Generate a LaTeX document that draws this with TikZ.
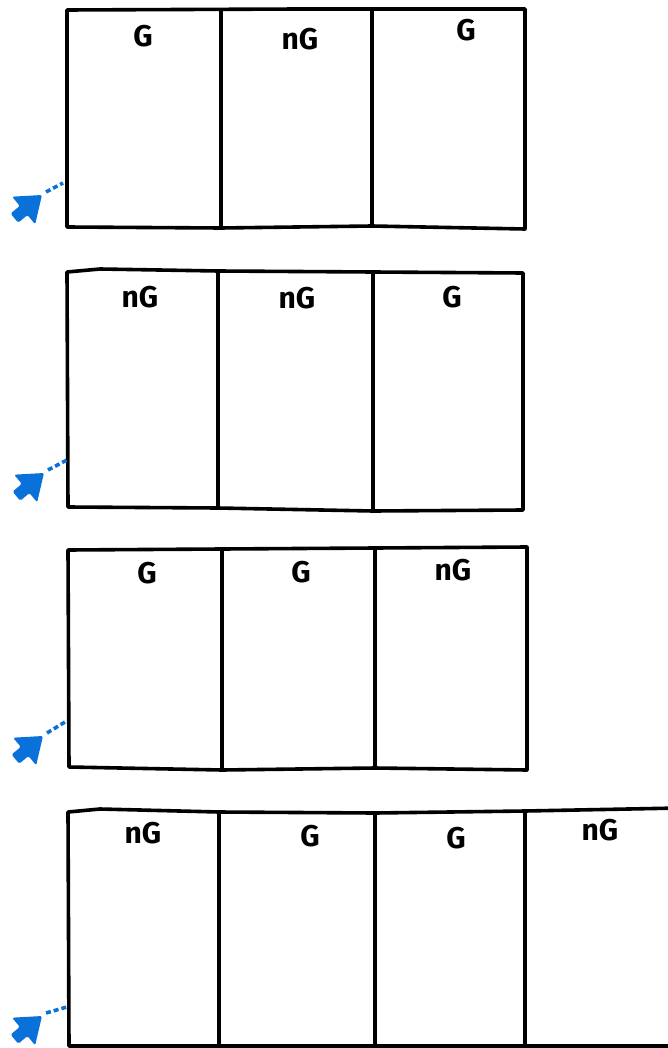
\documentclass[tikz,border=0pt]{standalone}
\usepackage{fontspec}
\setmainfont{Fira Sans}
\definecolor{arrowblue}{RGB}{10,112,218}
\tikzset{
  x=1pt, y=-1pt,
  boxline/.style={line width=3.6pt, line join=round, line cap=round, black},
  lbl/.style={font=\fontsize{30}{30}\selectfont\bfseries, inner sep=0pt},
  dots/.style={arrowblue, line width=3.6pt, dash pattern=on 5pt off 3pt},
  pics/bluearrow/.style={code={
    \fill[arrowblue, rounded corners=1.5pt, scale=1.2] (0,0) -- (-5.7,24.4) -- (-12.1,16.7) -- (-19.8,23.1)
      -- (-26.2,15.5) -- (-18.5,9.1) -- (-24.9,1.4) -- cycle;
  }}
}
\begin{document}
\begin{tikzpicture}
\useasboundingbox (0,0) rectangle (667,1048);
% Row 1
\draw[boxline] (67,10) -- (300,9) -- (525,9) -- (525,229) -- (372,226) -- (221,228) -- (67,227) -- cycle;
\draw[boxline] (221,10) -- (221,228);
\draw[boxline] (372,9) -- (372,226);
\node[lbl] (r1a) at (143,36) {G};
\node[lbl] (r1b) at (300,39) {nG};
\node[lbl] (r1c) at (466,30) {G};
\pic at (42,195) {bluearrow};
\coordinate (r1s) at (46,192);
\coordinate (r1e) at (63,183);
\draw[dots] (r1s) -- (r1e);
% Row 2
\draw[boxline] (67,272) -- (100,269) -- (218,271) -- (373,272) -- (523,273) -- (523,510) -- (373,511) -- (218,508) -- (68,507) -- cycle;
\draw[boxline] (218,271) -- (218,508);
\draw[boxline] (373,272) -- (373,511);
\node[lbl] (r2a) at (140,297) {nG};
\node[lbl] (r2b) at (297,298) {nG};
\node[lbl] (r2c) at (452,297) {G};
\pic at (44,473) {bluearrow};
\coordinate (r2s) at (48,470);
\coordinate (r2e) at (67,460);
\draw[dots] (r2s) -- (r2e);
% Row 3
\draw[boxline] (68,550) -- (222,549) -- (375,548) -- (527,547) -- (527,770) -- (375,768) -- (222,770) -- (69,767) -- cycle;
\draw[boxline] (222,549) -- (222,770);
\draw[boxline] (375,548) -- (375,768);
\node[lbl] (r3a) at (147,573) {G};
\node[lbl] (r3b) at (301,572) {G};
\node[lbl] (r3c) at (453,570) {nG};
\pic at (43,736) {bluearrow};
\coordinate (r3s) at (47,733);
\coordinate (r3e) at (65,722);
\draw[dots] (r3s) -- (r3e);
% Row 4
\draw[boxline] (680,808) -- (525,811) -- (375,813) -- (219,812) -- (100,809) -- (68,812) -- (69,1046) -- (219,1046) -- (375,1046) -- (525,1046) -- (680,1046);
\draw[boxline] (219,812) -- (219,1046);
\draw[boxline] (375,813) -- (375,1046);
\draw[boxline] (525,811) -- (525,1046);
\node[lbl] (r4a) at (143,833) {nG};
\node[lbl] (r4b) at (310,836) {G};
\node[lbl] (r4c) at (456,838) {G};
\node[lbl] (r4d) at (600,830) {nG};
\pic at (42,1016) {bluearrow};
\coordinate (r4s) at (46,1013);
\coordinate (r4e) at (67,1007);
\draw[dots] (r4s) -- (r4e);
\end{tikzpicture}
\end{document}
